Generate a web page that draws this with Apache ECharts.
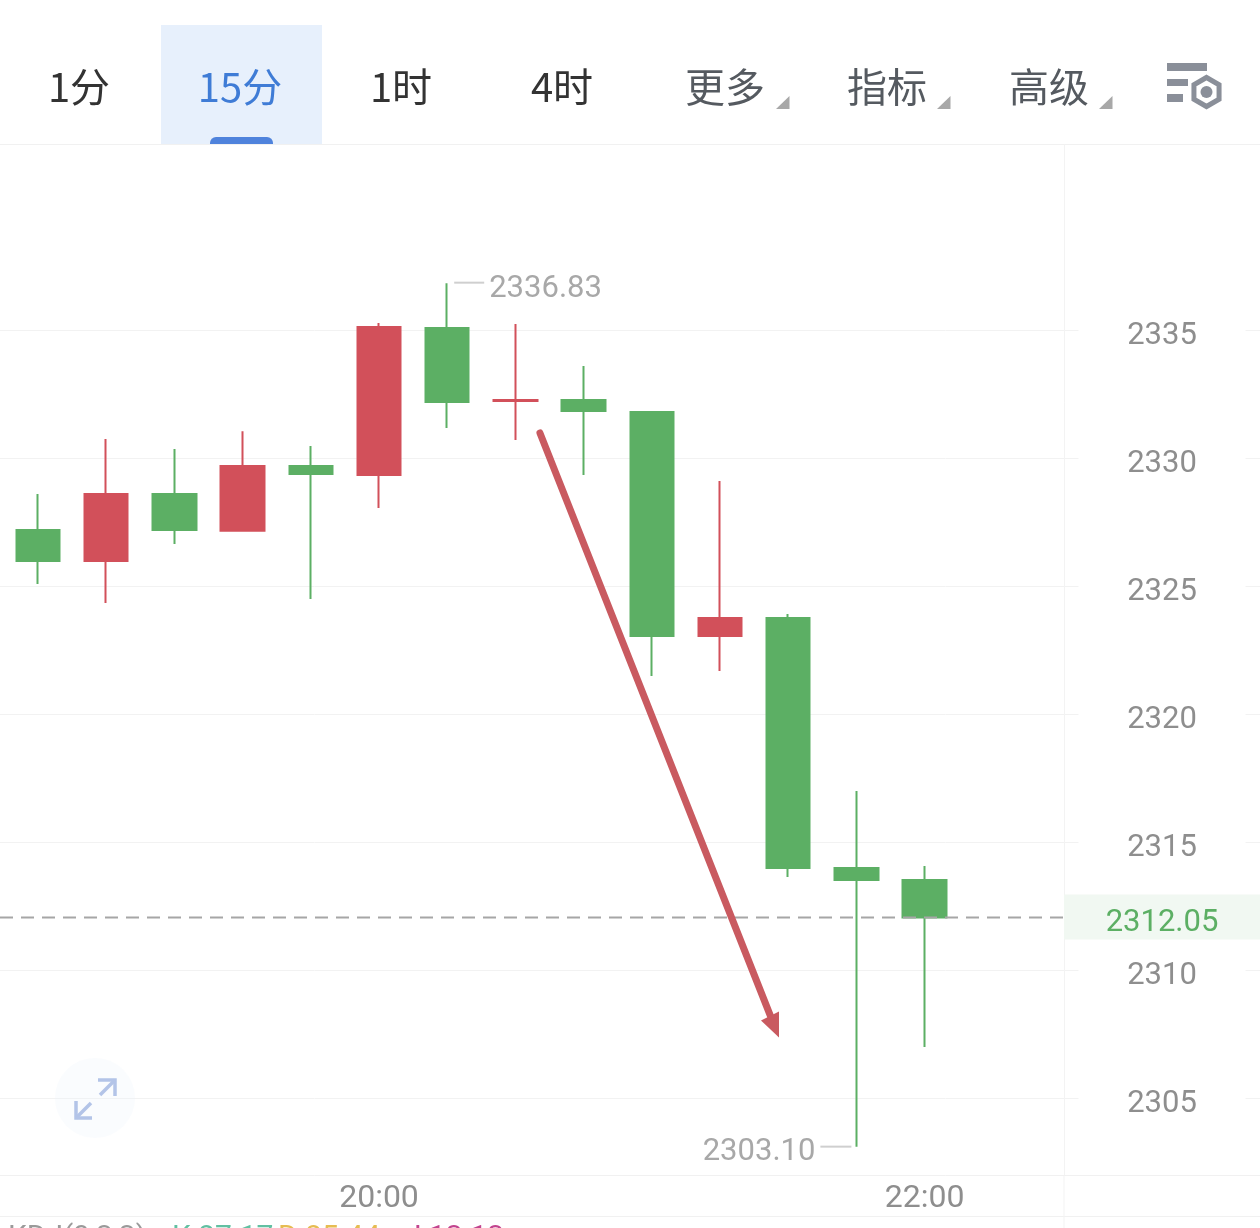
<!DOCTYPE html>
<html><head><meta charset="utf-8">
<style>html,body{margin:0;padding:0;background:#fff;overflow:hidden}#c{width:1260px;height:1228px}</style>
<script src="https://cdn.jsdelivr.net/npm/echarts@6/dist/echarts.min.js"></script>
</head><body><div id="c"></div>
<script>
// one empty slot before the first candle, empty slots after the last
const times = ['','18:45','19:00','19:15','19:30','19:45','20:00','20:15','20:30','20:45','21:00','21:15','21:30','21:45','22:00','','','','',''];
const shownTimes = ['20:00','22:00'];
const opens  = [2327.19,2325.98,2328.59,2327.16,2329.69,2329.34,2335.08,2332.23,2332.27,2331.80,2323.05,2323.75,2313.98,2313.52];
const closes = [2325.98,2328.59,2327.19,2329.69,2329.38,2335.12,2332.19,2332.27,2331.84,2323.05,2323.75,2313.98,2313.52,2312.05];
const lows   = [2325.08,2324.34,2326.64,2327.16,2324.49,2328.05,2331.17,2330.70,2329.34,2321.48,2321.68,2313.63,2303.10,2306.99];
const highs  = [2328.59,2330.74,2330.35,2331.05,2330.47,2335.27,2336.83,2335.23,2333.59,2331.80,2329.10,2323.91,2316.99,2314.06];
const yTicks = [2305,2310,2315,2320,2325,2330,2335];
const arrowFrom = [8.36,2330.98];
const arrowTo   = [11.865,2307.36];
const tabs = ['1分','15分','1时','4时','更多','指标','高级'];
const kdjLabels = ['KDJ(9,3,3)','K:87.17','D:85.44','J:13.13'];

const GREEN='#5caf64', RED='#d2505a', FONT='Roboto,"Noto Sans",sans-serif', CJK='"Noto Sans CJK SC",sans-serif';
const candles = opens.map((o,i)=>[i+1,o,closes[i],lows[i],highs[i]]);
const hi = highs.indexOf(Math.max(...highs)), lo = lows.indexOf(Math.min(...lows));
const last = closes[closes.length-1];

function pt(api,p){ // fractional category position
  const i=Math.floor(p[0]), a=api.coord([i,p[1]]), b=api.coord([i+1,p[1]]);
  return [a[0]+(b[0]-a[0])*(p[0]-i),a[1]];
}
function tx(x,y,text,color,size,align){return {type:'text',silent:true,style:{x,y,text,fill:color,font:size+'px '+FONT,align:align||'left',verticalAlign:'middle'}};}

const tabX=[79,240,401,562,725,887,1049];
const tabColor=['#333','#3f7cd6','#333','#333','#555a60','#555a60','#555a60'];
const g=[];
g.push({type:'rect',z:-1,shape:{x:161,y:25,width:161,height:119},style:{fill:'#e7f0fc'}});
g.push({type:'rect',z:-1,shape:{x:210,y:137,width:63,height:8,r:[6,6,0,0]},style:{fill:'#4f83dc'}});
tabs.forEach((t,i)=>g.push({type:'text',z:1,style:{x:tabX[i],y:87,text:t,fill:tabColor[i],font:'40px '+CJK,align:'center',verticalAlign:'middle'}}));
[776,937,1099].forEach(x=>g.push({type:'polygon',shape:{points:[[x,109],[x+13.5,96],[x+13.5,109]]},style:{fill:'#a8a8a8'}}));
g.push({type:'rect',shape:{x:1167,y:63,width:40,height:8},style:{fill:'#8a8f99'}});
g.push({type:'rect',shape:{x:1167,y:79,width:21,height:7},style:{fill:'#8a8f99'}});
g.push({type:'rect',shape:{x:1167,y:94,width:16,height:8},style:{fill:'#8a8f99'}});
const hex=[];for(let k=0;k<6;k++){const a=Math.PI/3*k-Math.PI/2;hex.push([1206.5+14.5*Math.cos(a),92+14.5*Math.sin(a)]);}
g.push({type:'polygon',shape:{points:hex},style:{fill:'#fff',stroke:'#8a8f99',lineWidth:5}});
g.push({type:'circle',shape:{cx:1206.5,cy:92,r:6},style:{fill:'#8a8f99'}});
g.push({type:'line',shape:{x1:0,y1:144.5,x2:1260,y2:144.5},style:{stroke:'#f1f1f1',lineWidth:1}});
g.push({type:'line',shape:{x1:0,y1:1216.5,x2:1260,y2:1216.5},style:{stroke:'#f1f1f1',lineWidth:1}});
g.push({type:'line',shape:{x1:1064,y1:1175,x2:1064,y2:1228},style:{stroke:'#f3f3f3',lineWidth:1}});
// expand button
g.push({type:'circle',z:5,shape:{cx:95,cy:1098,r:40},style:{fill:'rgba(235,242,253,0.25)'}});
const ic={stroke:'#b3c4e8',lineWidth:3.5,fill:'none'};
g.push({type:'polyline',z:6,shape:{points:[[98,1080],[115,1080],[115,1096]]},style:ic});
g.push({type:'line',z:6,shape:{x1:115,y1:1080,x2:100,y2:1095},style:ic});
g.push({type:'polyline',z:6,shape:{points:[[76,1101],[76,1118],[92,1118]]},style:ic});
g.push({type:'line',z:6,shape:{x1:76,y1:1118,x2:91,y2:1103},style:ic});
// KDJ line, cut by the bottom of the window
[[8,'#9a9a9a'],[172,'#62c0a2'],[278,'#e6bc52'],[405,'#c2448e']].forEach((k,i)=>g.push({type:'text',style:{x:k[0],y:1238,text:kdjLabels[i],fill:k[1],font:'30px '+FONT,verticalAlign:'middle'}}));

const option={
  animation:false,backgroundColor:'#fff',
  grid:{left:-64.3,width:1364,top:145,height:1030,containLabel:false,outerBoundsMode:'none'},
  xAxis:{type:'category',data:times,boundaryGap:true,
    axisLine:{show:true,lineStyle:{color:'#f1f1f1',width:1}},axisTick:{show:false},splitLine:{show:false},
    axisLabel:{interval:(i,v)=>shownTimes.includes(v),color:'#8e8e8e',fontSize:32,fontFamily:FONT,margin:8}},
  yAxis:{type:'value',position:'right',offset:-235.7,min:2301.992,max:2342.227,scale:true,
    axisLine:{show:true,lineStyle:{color:'#f3f3f3',width:1}},
    axisTick:{show:false,customValues:yTicks},
    splitLine:{show:true,lineStyle:{color:'#f2f2f2',width:1}},
    axisLabel:{customValues:yTicks,margin:98,align:'center',verticalAlign:'middle',width:167,
      backgroundColor:'#fff',showMinLabel:true,showMaxLabel:true,formatter:v=>'{a|'+v+'}',
      rich:{a:{padding:[12,0,0,0],color:'#8e8e8e',fontSize:31,fontFamily:FONT}}}},
  graphic:{elements:g},
  series:[
    {type:'candlestick',data:candles,encode:{x:0,y:[1,2,3,4]},barWidth:44,silent:true,
      itemStyle:{color:RED,borderColor:RED,color0:GREEN,borderColor0:GREEN,borderWidth:2}},
    {type:'custom',z:5,silent:true,clip:false,data:[[0]],coordinateSystem:'cartesian2d',encode:{x:0,y:0},
      renderItem:(p,api)=>{
        const yl=api.coord([14,last])[1], h=api.coord([hi+1,highs[hi]]), l=api.coord([lo+1,lows[lo]]);
        const A=pt(api,arrowFrom), B=pt(api,arrowTo);
        const L=Math.hypot(B[0]-A[0],B[1]-A[1]),ux=(B[0]-A[0])/L,uy=(B[1]-A[1])/L;
        return {type:'group',children:[
          {type:'rect',silent:true,shape:{x:1064,y:yl-23,width:196,height:45},style:{fill:'#f1f8f2'}},
          {type:'line',silent:true,shape:{x1:0,y1:yl,x2:1064,y2:yl},style:{stroke:'#a6a6a6',lineWidth:2,lineDash:[13,8]}},
          tx(1162,yl+6,String(last.toFixed(2)),GREEN,31,'center'),
          {type:'line',silent:true,shape:{x1:h[0]+7,y1:h[1]-0.5,x2:h[0]+37,y2:h[1]-0.5},style:{stroke:'#cfcfcf',lineWidth:2}},
          tx(h[0]+42,h[1]+6,highs[hi].toFixed(2),'#a8a8a8',31),
          {type:'line',silent:true,shape:{x1:l[0]-36,y1:l[1],x2:l[0]-5,y2:l[1]},style:{stroke:'#cfcfcf',lineWidth:2}},
          tx(l[0]-41,l[1]+6,lows[lo].toFixed(2),'#a8a8a8',31,'right'),
          {type:'line',silent:true,shape:{x1:A[0],y1:A[1],x2:B[0]-ux*22,y2:B[1]-uy*22},style:{stroke:'#c95a60',lineWidth:7,lineCap:'round'}},
          {type:'polygon',silent:true,shape:{points:[[B[0],B[1]],[B[0],B[1]-26],[B[0]-18,B[1]-17]]},style:{fill:'#c95a60'}}
        ]};
      }}
  ]
};
const chart=echarts.init(document.getElementById('c'),null,{renderer:'canvas'});
chart.setOption(option);
</script></body></html>
